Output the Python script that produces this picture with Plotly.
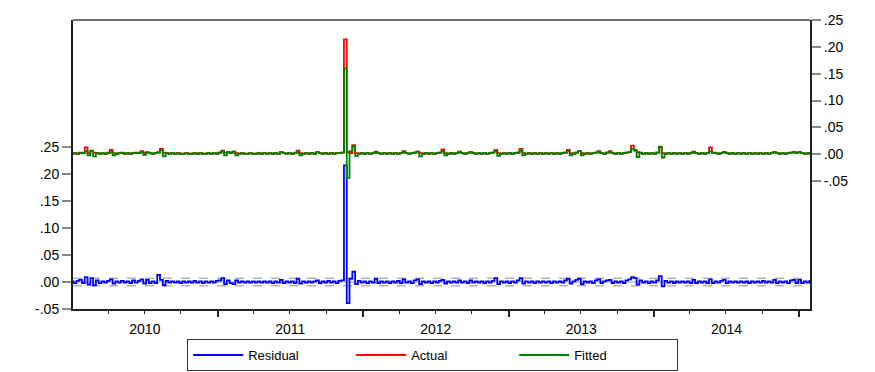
import pandas as pd
import plotly.graph_objects as go

# Weekly observations starting 2010-01-01
start_date = "2010-01-01"

actual = [
    0.001, 0.002, 0.001, 0.003, 0.002, 0.013, 0.002, 0.006, 0.003, 0.002,
    0.001, 0.002, 0.001, 0.003, 0.008, 0.002, 0.001, 0.002, 0.003, 0.001,
    0.002, 0.001, 0.002, 0.003, 0.002, 0.006, 0.002, 0.004, 0.002, 0.001,
    0.002, 0.004, 0.010, 0.003, 0.002, 0.001, 0.002, 0.001, 0.002, 0.001,
    0.001, 0.002, 0.001, 0.001, 0.002, 0.001, 0.002, 0.001, 0.001, 0.002,
    0.001, 0.002, 0.001, 0.003, 0.007, 0.003, 0.004, 0.002, 0.005, 0.002,
    0.001, 0.002, 0.001, 0.001, 0.002, 0.001, 0.001, 0.002, 0.001, 0.002,
    0.001, 0.002, 0.001, 0.002, 0.001, 0.004, 0.002, 0.001, 0.002, 0.001,
    0.002, 0.007, 0.002, 0.001, 0.002, 0.001, 0.002, 0.001, 0.004, 0.002,
    0.001, 0.002, 0.001, 0.002, 0.001, 0.002, 0.002, 0.003, 0.214, 0.004,
    0.002, 0.017, 0.002, 0.001, 0.002, 0.001, 0.002, 0.001, 0.002, 0.005,
    0.002, 0.001, 0.002, 0.001, 0.002, 0.001, 0.002, 0.001, 0.002, 0.006,
    0.002, 0.001, 0.002, 0.003, 0.005, 0.002, 0.001, 0.002, 0.001, 0.002,
    0.001, 0.002, 0.003, 0.009, 0.002, 0.001, 0.002, 0.001, 0.002, 0.005,
    0.002, 0.001, 0.002, 0.004, 0.002, 0.001, 0.002, 0.001, 0.002, 0.001,
    0.002, 0.003, 0.008, 0.002, 0.001, 0.002, 0.001, 0.002, 0.001, 0.002,
    0.003, 0.010, 0.002, 0.001, 0.002, 0.001, 0.002, 0.001, 0.002, 0.001,
    0.002, 0.001, 0.002, 0.001, 0.002, 0.001, 0.002, 0.003, 0.008, 0.002,
    0.001, 0.003, 0.006, 0.002, 0.001, 0.002, 0.001, 0.002, 0.003, 0.006,
    0.002, 0.001, 0.003, 0.006, 0.002, 0.001, 0.002, 0.001, 0.002, 0.003,
    0.004, 0.016, 0.007, 0.004, 0.002, 0.001, 0.002, 0.001, 0.002, 0.001,
    0.003, 0.013, 0.002, 0.001, 0.002, 0.001, 0.002, 0.001, 0.002, 0.001,
    0.002, 0.001, 0.002, 0.005, 0.002, 0.001, 0.002, 0.001, 0.002, 0.013,
    0.003, 0.002, 0.001, 0.002, 0.004, 0.002, 0.001, 0.002, 0.001, 0.002,
    0.001, 0.002, 0.001, 0.002, 0.001, 0.002, 0.001, 0.002, 0.001, 0.002,
    0.001, 0.002, 0.004, 0.002, 0.001, 0.002, 0.001, 0.002, 0.003, 0.004,
    0.002, 0.004, 0.002, 0.001, 0.002, 0.001,
]

fitted = [
    0.001, 0.002, 0.001, 0.002, 0.002, 0.006, -0.002, 0.007, -0.004, 0.002,
    0.001, 0.002, 0.001, 0.002, 0.004, -0.002, 0.001, 0.002, 0.002, 0.001,
    0.002, 0.001, 0.002, 0.002, 0.002, 0.004, -0.001, 0.003, 0.002, 0.001,
    0.002, 0.003, 0.008, -0.004, 0.002, 0.001, 0.002, 0.001, 0.002, 0.001,
    0.001, 0.002, 0.001, 0.001, 0.002, 0.001, 0.002, 0.001, 0.001, 0.002,
    0.001, 0.002, 0.001, 0.003, 0.005, -0.002, 0.004, 0.002, 0.005, -0.002,
    0.001, 0.002, 0.001, 0.001, 0.002, 0.001, 0.001, 0.002, 0.001, 0.002,
    0.001, 0.002, 0.001, 0.002, 0.001, 0.004, 0.002, 0.001, 0.002, 0.001,
    0.002, 0.004, -0.002, 0.001, 0.002, 0.001, 0.002, 0.001, 0.004, 0.002,
    0.001, 0.002, 0.001, 0.002, 0.001, 0.002, 0.002, 0.003, 0.160, -0.044,
    0.006, 0.015, -0.003, 0.001, 0.002, 0.001, 0.002, 0.001, 0.002, 0.004,
    0.002, 0.001, 0.002, 0.001, 0.002, 0.001, 0.002, 0.001, 0.002, 0.004,
    0.002, 0.001, 0.002, 0.003, 0.005, -0.004, 0.001, 0.002, 0.001, 0.002,
    0.001, 0.002, 0.003, 0.006, -0.002, 0.001, 0.002, 0.001, 0.002, 0.004,
    0.002, 0.001, 0.002, 0.004, 0.002, 0.001, 0.002, 0.001, 0.002, 0.001,
    0.002, 0.003, 0.006, -0.003, 0.001, 0.002, 0.001, 0.002, 0.001, 0.002,
    0.003, 0.007, -0.002, 0.001, 0.002, 0.001, 0.002, 0.001, 0.002, 0.001,
    0.002, 0.001, 0.002, 0.001, 0.002, 0.001, 0.002, 0.003, 0.006, -0.002,
    0.001, 0.003, 0.006, -0.002, 0.001, 0.002, 0.001, 0.002, 0.003, 0.004,
    0.002, 0.001, 0.003, 0.004, 0.002, 0.001, 0.002, 0.001, 0.002, 0.003,
    0.004, 0.010, 0.008, -0.005, 0.003, 0.001, 0.002, 0.001, 0.002, 0.001,
    0.003, 0.014, -0.006, 0.001, 0.002, 0.001, 0.002, 0.001, 0.002, 0.001,
    0.002, 0.001, 0.002, 0.004, 0.002, 0.001, 0.002, 0.001, 0.002, 0.005,
    0.003, 0.002, 0.001, 0.002, 0.004, 0.002, 0.001, 0.002, 0.001, 0.002,
    0.001, 0.002, 0.001, 0.002, 0.001, 0.002, 0.001, 0.002, 0.001, 0.002,
    0.001, 0.002, 0.004, 0.002, 0.001, 0.002, 0.001, 0.002, 0.003, 0.004,
    0.002, 0.004, 0.002, 0.001, 0.002, 0.001,
]

residual = [
    0.001, -0.002, 0.002, 0.004, -0.002, 0.009, -0.005, 0.007, -0.006, 0.003,
    -0.002, 0.001, -0.001, 0.002, 0.005, -0.003, 0.001, -0.001, 0.002, -0.001,
    0.001, -0.002, 0.003, -0.001, 0.002, 0.005, -0.003, 0.004, -0.002, 0.001,
    -0.002, 0.013, 0.004, -0.006, 0.002, -0.001, 0.001, -0.001, 0.001, -0.002,
    0.001, -0.001, 0.001, -0.001, 0.002, -0.001, 0.001, -0.002, 0.001, -0.001,
    0.001, -0.001, 0.002, 0.003, 0.007, -0.004, 0.003, -0.002, -0.004, 0.003,
    -0.001, 0.001, -0.001, 0.001, -0.001, 0.001, -0.001, 0.001, -0.001, 0.001,
    -0.001, 0.001, -0.002, 0.001, -0.001, 0.004, -0.002, 0.001, -0.001, 0.001,
    -0.002, 0.006, -0.003, 0.001, -0.001, 0.001, -0.001, 0.001, 0.003, -0.002,
    0.001, -0.001, 0.002, -0.001, 0.001, -0.002, 0.002, 0.003, 0.216, -0.039,
    0.006, 0.019, -0.004, 0.002, -0.001, 0.001, -0.002, 0.001, -0.001, 0.006,
    -0.002, 0.001, -0.001, 0.001, -0.002, 0.001, -0.001, 0.002, -0.002, 0.005,
    -0.001, 0.001, -0.002, 0.003, 0.005, -0.004, 0.001, -0.001, 0.001, -0.002,
    0.001, -0.001, 0.002, 0.004, -0.003, 0.001, -0.001, 0.001, -0.001, 0.003,
    -0.001, 0.001, -0.002, 0.003, -0.001, 0.001, -0.001, 0.001, -0.002, 0.001,
    -0.001, 0.002, 0.007, -0.004, 0.001, -0.001, 0.001, -0.002, 0.001, -0.001,
    0.003, 0.007, -0.003, 0.001, -0.001, 0.001, -0.002, 0.001, -0.001, 0.001,
    -0.001, 0.001, -0.002, 0.001, -0.001, 0.001, -0.001, 0.003, 0.006, -0.003,
    0.001, 0.004, 0.006, -0.004, 0.001, -0.001, 0.001, -0.002, 0.003, 0.005,
    -0.002, 0.001, 0.003, 0.004, -0.002, 0.001, -0.001, 0.001, -0.002, 0.003,
    0.005, 0.009, 0.007, -0.005, 0.003, -0.001, 0.001, -0.002, 0.001, -0.001,
    0.003, 0.011, -0.008, 0.002, -0.001, 0.001, -0.002, 0.001, -0.001, 0.001,
    -0.001, 0.001, -0.002, 0.004, -0.002, 0.001, -0.001, 0.001, -0.002, 0.005,
    -0.002, 0.001, -0.001, 0.002, 0.004, -0.002, 0.001, -0.001, 0.001, -0.001,
    0.001, -0.001, 0.001, -0.002, 0.001, -0.001, 0.001, -0.001, 0.002, -0.001,
    0.001, -0.001, 0.004, -0.002, 0.001, -0.001, 0.001, -0.002, 0.003, 0.004,
    -0.002, 0.004, -0.002, 0.001, -0.001, 0.002,
]

residual_se = 0.0068

left_tickvals = [-0.05, 0.0, 0.05, 0.10, 0.15, 0.20, 0.25]
left_ticktext = ["-.05", ".00", ".05", ".10", ".15", ".20", ".25"]
right_tickvals = [-0.05, 0.0, 0.05, 0.10, 0.15, 0.20, 0.25]
right_ticktext = ["-.05", ".00", ".05", ".10", ".15", ".20", ".25"]

dates = pd.date_range(start_date, periods=len(actual), freq="7D")

FONT = "Liberation Sans"

fig = go.Figure()
fig.add_trace(go.Scatter(x=dates, y=residual, name="Residual", mode="lines",
                         line=dict(color="#0000FF", width=1.8, shape="hvh"), yaxis="y"))
fig.add_trace(go.Scatter(x=dates, y=actual, name="Actual", mode="lines",
                         line=dict(color="#FF0000", width=1.8, shape="hvh"), yaxis="y2"))
fig.add_trace(go.Scatter(x=dates, y=fitted, name="Fitted", mode="lines",
                         line=dict(color="#008000", width=1.8, shape="hvh"), yaxis="y2"))

shapes = [
    dict(type="line", xref="paper", yref="y", x0=0, x1=1, y0=0, y1=0,
         line=dict(color="#a0a0a0", width=1), layer="below"),
    dict(type="line", xref="paper", yref="y", x0=0, x1=1, y0=residual_se, y1=residual_se,
         line=dict(color="#b4b4b4", width=1.5, dash="dash"), layer="below"),
    dict(type="line", xref="paper", yref="y", x0=0, x1=1, y0=-residual_se, y1=-residual_se,
         line=dict(color="#b4b4b4", width=1.5, dash="dash"), layer="below"),
    dict(type="line", xref="paper", yref="paper", x0=0, x1=1, y0=1, y1=1,
         line=dict(color="#707070", width=2)),
]

# the page body adds an 8px offset, so the figure is sized to fit 875x372 after it
fig.update_layout(
    width=867, height=364,
    margin=dict(l=65, r=65, t=12, b=63, autoexpand=False),
    paper_bgcolor="white", plot_bgcolor="white",
    font=dict(family=FONT, size=14, color="black"),
    showlegend=True,
    legend=dict(orientation="h", x=0.488, xanchor="center", y=-0.104, yanchor="top",
                bordercolor="#333333", borderwidth=1, bgcolor="white",
                font=dict(family=FONT, size=13), entrywidth=98, itemwidth=50,
                tracegroupgap=0),
    shapes=shapes,
    xaxis=dict(
        type="date", range=["2010-01-03", "2015-01-28"],
        tick0="2010-01-01", dtick="M12", tickformat="%Y", ticklabelmode="period",
        ticks="outside", ticklen=6, tickwidth=1.5, tickcolor="#222222",
        minor=dict(dtick="M3", ticks="outside", ticklen=3, tickwidth=1, tickcolor="#222222"),
        showline=True, linecolor="#222222", linewidth=2,
        showgrid=False, zeroline=False,
        tickfont=dict(family=FONT, size=14),
    ),
    yaxis=dict(
        range=[-0.05, 0.485], tickvals=left_tickvals, ticktext=left_ticktext,
        ticks="outside", ticklen=9, tickwidth=1.5, tickcolor="#888888",
        showline=True, linecolor="#222222", linewidth=2,
        showgrid=False, zeroline=False,
        tickfont=dict(family=FONT, size=14),
    ),
    yaxis2=dict(
        range=[-0.288, 0.25], tickvals=right_tickvals, ticktext=right_ticktext,
        overlaying="y", side="right",
        ticks="outside", ticklen=9, tickwidth=1.5, tickcolor="#888888",
        showline=True, linecolor="#222222", linewidth=2,
        showgrid=False, zeroline=False,
        tickfont=dict(family=FONT, size=14),
    ),
)

fig.write_html("out.html")
